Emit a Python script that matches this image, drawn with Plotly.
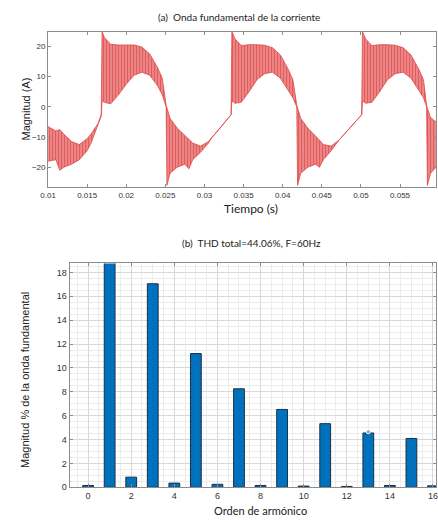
import plotly.graph_objects as go

# ---- (a) current waveform: envelope ----
t_env = [0.0100, 0.0110, 0.0115, 0.0120, 0.0130, 0.0140, 0.0150, 0.0155, 0.0160, 0.0164, 0.0168,
         0.0169, 0.0172, 0.0180, 0.0190, 0.0200, 0.0210, 0.0220, 0.0230, 0.0240, 0.0246, 0.0251,
         0.0252, 0.0256, 0.0265, 0.0275, 0.0280, 0.0285, 0.0295, 0.0305, 0.0310, 0.0320, 0.0334,
         0.0335, 0.0339, 0.0347, 0.0357, 0.0367, 0.0377, 0.0387, 0.0397, 0.0407, 0.0413, 0.0418,
         0.0419, 0.0423, 0.0432, 0.0442, 0.0447, 0.0452, 0.0462, 0.0472, 0.0477, 0.0487, 0.0501,
         0.0502, 0.0506, 0.0514, 0.0524, 0.0534, 0.0544, 0.0554, 0.0564, 0.0574, 0.0580, 0.0584,
         0.0585, 0.0589, 0.0596]
upper = [-6.5, -8.0, -7.5, -9.0, -11.5, -12.5, -10.5, -9.0, -7.0, -5.5, -2.5,
         25.0, 23.0, 20.7, 20.5, 20.5, 20.5, 19.8, 17.5, 13.0, 9.5, 0.5,
         -0.5, -3.8, -7.0, -9.5, -10.5, -12.0, -13.0, -11.5, -10.0, -7.0, -2.6,
         25.0, 22.5, 20.3, 20.6, 20.6, 20.4, 19.6, 17.2, 12.5, 9.0, 0.5,
         -0.5, -3.8, -7.0, -9.5, -11.0, -12.5, -13.0, -11.0, -9.5, -6.5, -2.6,
         25.0, 22.5, 20.3, 20.6, 20.6, 20.4, 19.6, 17.2, 12.5, 9.0, 0.5,
         -0.5, -3.5, -5.0]
lower = [-18.0, -17.5, -21.0, -20.0, -19.0, -17.5, -14.5, -12.0, -8.5, -6.0, -3.0,
         2.0, 1.5, 1.0, 4.0, 7.5, 10.5, 11.5, 10.5, 7.0, 4.0, 0.0,
         -26.0, -22.0, -20.0, -19.0, -20.5, -17.5, -15.0, -12.0, -10.0, -7.0, -2.6,
         2.0, 1.2, 1.5, 5.0, 9.0, 11.0, 11.5, 9.5, 5.5, 3.0, 0.0,
         -26.0, -22.0, -20.0, -19.0, -20.0, -17.5, -14.5, -11.0, -9.5, -6.5, -2.6,
         2.0, 1.2, 1.5, 5.0, 9.0, 11.0, 11.5, 9.5, 5.5, 3.0, 0.0,
         -26.0, -22.0, -20.0]

# ---- (b) harmonic spectrum ----
orders = list(range(0, 17))
magnitudes = [0.15, 100.0, 0.85, 17.05, 0.35, 11.2, 0.25, 8.25, 0.15, 6.52,
              0.1, 5.33, 0.07, 4.55, 0.15, 4.09, 0.12]
x_ticks_a = [0.01, 0.015, 0.02, 0.025, 0.03, 0.035, 0.04, 0.045, 0.05, 0.055]
x_ticklabels_a = ["0.01", "0.015", "0.02", "0.025", "0.03", "0.035", "0.04", "0.045", "0.05", "0.055"]

W, H = 438, 522
fig = go.Figure()

fig.add_trace(go.Scatter(x=t_env, y=upper, mode="lines",
                         line=dict(color="#e04848", width=0.8),
                         xaxis="x", yaxis="y", showlegend=False, hoverinfo="skip"))
fig.add_trace(go.Scatter(x=t_env, y=lower, mode="lines",
                         line=dict(color="#e04848", width=0.8),
                         fill="tonexty", fillcolor="#e87474",
                         fillpattern=dict(shape="|", fgcolor="#d02a2a", bgcolor="#ee8a8a",
                                          size=3, solidity=0.4),
                         xaxis="x", yaxis="y", showlegend=False, hoverinfo="skip"))

fig.add_trace(go.Bar(x=orders, y=magnitudes, width=0.5,
                     marker=dict(color="#0072BD", line=dict(color="#1b2f45", width=1)),
                     xaxis="x2", yaxis="y2", showlegend=False))
fig.add_trace(go.Scatter(x=[orders[13]], y=[magnitudes[13] + 0.1], mode="markers",
                         marker=dict(color="#9a9a9a", size=4, line=dict(color="white", width=1)),
                         xaxis="x2", yaxis="y2", showlegend=False, hoverinfo="skip"))

tickfont = dict(family="Liberation Sans, Arial", size=8, color="#333333")
tickfont2 = dict(family="Liberation Sans, Arial", size=9, color="#333333")
axcol = "#8c8c8c"

fig.update_layout(
    width=W, height=H,
    margin=dict(l=0, r=0, t=0, b=0),
    paper_bgcolor="white", plot_bgcolor="white",
    xaxis=dict(domain=[41 / W, 1.0], anchor="y", range=[0.01, 0.0596],
               tickvals=x_ticks_a, ticktext=x_ticklabels_a, tickfont=tickfont,
               ticklabeloverflow="allow",
               ticks="inside", ticklen=3, tickcolor=axcol, showline=True, linecolor=axcol,
               linewidth=1, mirror="ticks", showgrid=False, zeroline=False),
    yaxis=dict(domain=[1 - 189 / H, 1 - 32 / H], anchor="x", range=[-26.6, 24.9],
               tickvals=[-20, -10, 0, 10, 20], tickfont=tickfont,
               ticks="inside", ticklen=3, tickcolor=axcol, showline=True, linecolor=axcol,
               linewidth=1, mirror="ticks", showgrid=False, zeroline=False),
    xaxis2=dict(domain=[63 / W, 1.0], anchor="y2", range=[-0.86, 16.14],
                tickvals=list(range(0, 17, 2)), tickfont=tickfont2,
                ticklabeloverflow="allow",
                ticks="inside", ticklen=3, tickcolor=axcol, showline=True, linecolor=axcol,
                linewidth=1, mirror="ticks", showgrid=True, gridcolor="#d8d8d8", gridwidth=1,
                minor=dict(dtick=0.5, showgrid=True, gridcolor="#ececec", gridwidth=1),
                zeroline=False),
    yaxis2=dict(domain=[1 - 492 / H, 1 - 266 / H], anchor="x2", range=[0, 18.75],
                tickvals=list(range(0, 19, 2)), tickfont=tickfont2,
                ticks="inside", ticklen=3, tickcolor=axcol, showline=True, linecolor=axcol,
                linewidth=1, mirror="ticks", showgrid=True, gridcolor="#d8d8d8", gridwidth=1,
                minor=dict(dtick=0.5, showgrid=True, gridcolor="#ececec", gridwidth=1),
                zeroline=False),
    bargap=0.5,
)

def ann(text, x, y, size, angle=0, family="Lato, Open Sans"):
    fig.add_annotation(text=text, x=x / W, y=1 - y / H, xref="paper", yref="paper",
                       showarrow=False, textangle=angle, xanchor="center", yanchor="middle",
                       font=dict(family=family, size=size, color="#222222"))

ann("(a)  Onda fundamental de la corriente", 236, 17, 10)
ann("Magnitud (A)", 18, 110, 11, angle=-90, family="Liberation Sans, Arial")
ann("Tiempo (s)", 249, 211, 12)
ann("(b)  THD total=44.06%, F=60Hz", 249, 245, 10)
ann("Magnitud % de la onda fundamental", 18, 384, 11, angle=-90, family="Liberation Sans, Arial")
ann("Orden de armónico", 258, 515, 11)

fig.write_html("out.html")
